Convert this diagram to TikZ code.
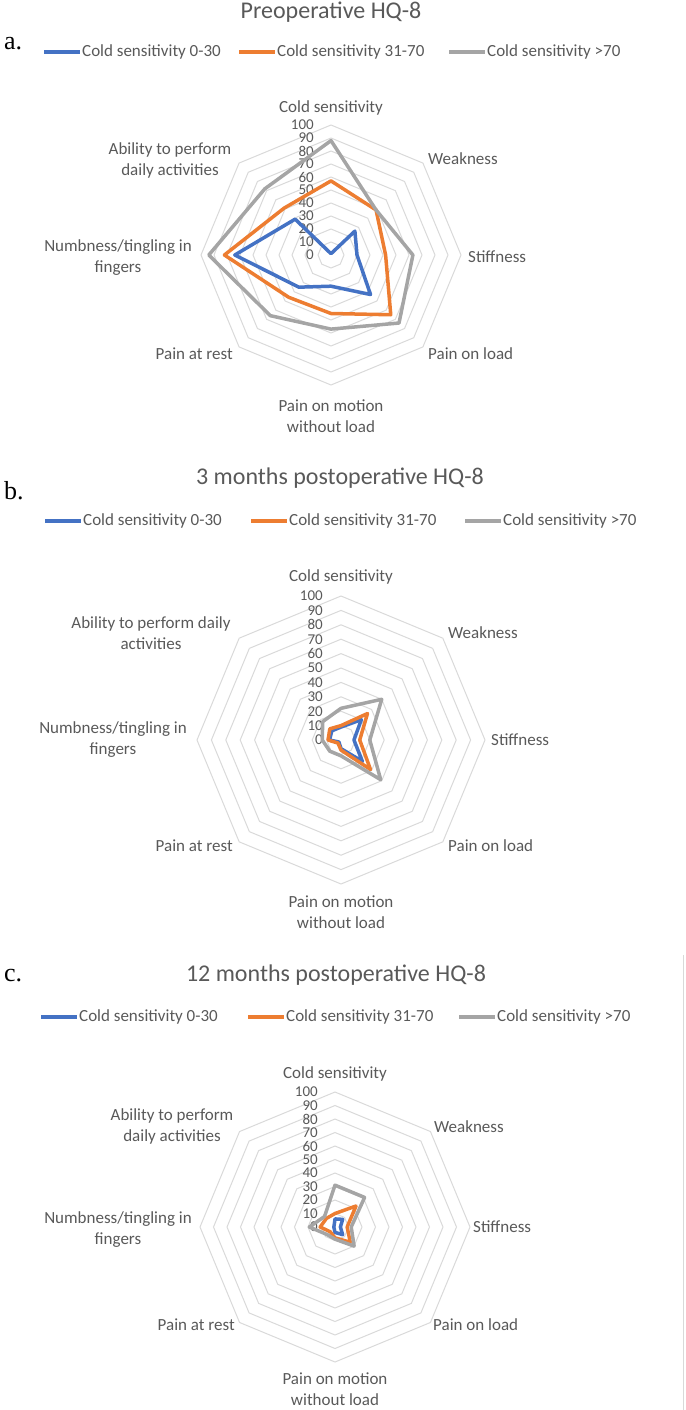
\documentclass[tikz,border=0pt]{standalone}
\usepackage{fontspec}
\setmainfont{Carlito}
\newfontfamily\panelfont{Liberation Serif}
\usetikzlibrary{positioning,calc}

\definecolor{csblue}{HTML}{4472C4}
\definecolor{csorange}{HTML}{ED7D31}
\definecolor{csgray}{HTML}{A5A5A5}
\definecolor{gridgray}{HTML}{D9D9D9}
\definecolor{textgray}{HTML}{595959}

\tikzset{
  axislabel/.style={text=textgray, font=\fontsize{17}{21}\selectfont, inner sep=0pt, align=center},
  charttitle/.style={text=textgray, font=\fontsize{24}{28}\selectfont, inner sep=0pt},
  ticklabel/.style={text=textgray, font=\fontsize{15}{15}\selectfont, inner sep=0pt, anchor=east},
  panellabel/.style={font=\panelfont\fontsize{26}{28}\selectfont, inner sep=0pt, anchor=west},
  ring/.style={draw=gridgray, line width=1pt},
  series/.style={line width=3.5pt, line join=round},
  legendline/.style={line width=3.5pt},
}

\begin{document}
\begin{tikzpicture}[x=1pt,y=-1pt]
\useasboundingbox (0,0) rectangle (685,1410);

% a. preoperative
\node[charttitle] (titleA) at (331,12) {Preoperative HQ-8};
\node[panellabel] (panelA) at (4,44) {a.};
\node[axislabel, anchor=west] (legA1) at (82,52) {Cold sensitivity 0-30};
\node[axislabel, anchor=west] (legA2) at (277,52) {Cold sensitivity 31-70};
\node[axislabel, anchor=west] (legA3) at (487,52) {Cold sensitivity >70};
\draw[legendline, csblue] ([xshift=-38pt]legA1.west) -- ([xshift=-2pt]legA1.west);
\draw[legendline, csorange] ([xshift=-38pt]legA2.west) -- ([xshift=-2pt]legA2.west);
\draw[legendline, csgray] ([xshift=-38pt]legA3.west) -- ([xshift=-2pt]legA3.west);

\begin{scope}[shift={(331,255)}]
\foreach \k in {1,...,10}
  \draw[ring] (-90:\k*13) \foreach \a in {-45,0,...,225} {-- (\a:\k*13)} -- cycle;
\foreach \n [count=\k from 0] in {0,10,...,100}
  \node[ticklabel] (tickA\n) at (-17,-\k*13) {\n};
\draw[series, csblue] (-90:1*1.3) -- (-45:26*1.3) -- (0:20*1.3) -- (45:43*1.3)
  -- (90:24*1.3) -- (135:35*1.3) -- (180:74*1.3) -- (225:39*1.3) -- cycle;
\draw[series, csorange] (-90:57*1.3) -- (-45:49*1.3) -- (0:42*1.3) -- (45:65*1.3)
  -- (90:45*1.3) -- (135:46*1.3) -- (180:82*1.3) -- (225:51*1.3) -- cycle;
\draw[series, csgray] (-90:88*1.3) -- (-45:49*1.3) -- (0:63*1.3) -- (45:74*1.3)
  -- (90:57*1.3) -- (135:66*1.3) -- (180:94*1.3) -- (225:72*1.3) -- cycle;
\end{scope}

\node[axislabel] (coldA) at (331,108) {Cold sensitivity};
\node[axislabel, anchor=west] (weakA) at (428,159) {Weakness};
\node[axislabel, anchor=west] (stiffA) at (468,257) {Stiffness};
\node[axislabel, anchor=west] (loadA) at (428,354) {Pain on load};
\node[axislabel] (motionA) at (331,416.5) {Pain on motion\\without load};
\node[axislabel, anchor=east] (restA) at (233,354) {Pain at rest};
\node[axislabel] (numbA) at (118,257.5) {Numbness/tingling in\\fingers};
\node[axislabel] (abilA) at (170,160) {Ability to perform\\daily activities};

% b. 3 months
\node[charttitle] (titleB) at (340,478) {3 months postoperative HQ-8};
\node[panellabel] (panelB) at (4,491) {b.};
\node[axislabel, anchor=west] (legB1) at (83,521) {Cold sensitivity 0-30};
\node[axislabel, anchor=west] (legB2) at (289,521) {Cold sensitivity 31-70};
\node[axislabel, anchor=west] (legB3) at (503,521) {Cold sensitivity >70};
\draw[legendline, csblue] ([xshift=-38pt]legB1.west) -- ([xshift=-2pt]legB1.west);
\draw[legendline, csorange] ([xshift=-38pt]legB2.west) -- ([xshift=-2pt]legB2.west);
\draw[legendline, csgray] ([xshift=-38pt]legB3.west) -- ([xshift=-2pt]legB3.west);

\begin{scope}[shift={(341,740)}]
\foreach \k in {1,...,10}
  \draw[ring] (-90:\k*14.4) \foreach \a in {-45,0,...,225} {-- (\a:\k*14.4)} -- cycle;
\foreach \n [count=\k from 0] in {0,10,...,100}
  \node[ticklabel] (tickB\n) at (-18,-\k*14.4) {\n};
\draw[series, csblue] (-90:9*1.44) -- (-45:20*1.44) -- (0:9*1.44) -- (45:21*1.44)
  -- (90:6*1.44) -- (135:2*1.44) -- (180:8*1.44) -- (225:9*1.44) -- cycle;
\draw[series, csorange] (-90:10*1.44) -- (-45:26*1.44) -- (0:13*1.44) -- (45:29*1.44)
  -- (90:7*1.44) -- (135:3*1.44) -- (180:9*1.44) -- (225:11*1.44) -- cycle;
\draw[series, csgray] (-90:22*1.44) -- (-45:40*1.44) -- (0:20*1.44) -- (45:39*1.44)
  -- (90:11*1.44) -- (135:11*1.44) -- (180:13*1.44) -- (225:18*1.44) -- cycle;
\end{scope}

\node[axislabel] (coldB) at (341,577) {Cold sensitivity};
\node[axislabel, anchor=west] (weakB) at (448,633) {Weakness};
\node[axislabel, anchor=west] (stiffB) at (491,740) {Stiffness};
\node[axislabel, anchor=west] (loadB) at (448,846) {Pain on load};
\node[axislabel] (motionB) at (341,912.5) {Pain on motion\\without load};
\node[axislabel, anchor=east] (restB) at (233,846) {Pain at rest};
\node[axislabel] (numbB) at (113,740) {Numbness/tingling in\\fingers};
\node[axislabel] (abilB) at (151,633.5) {Ability to perform daily\\activities};

% c. 12 months
\node[charttitle] (titleC) at (336,975) {12 months postoperative HQ-8};
\node[panellabel] (panelC) at (4,976) {c.};
\node[axislabel, anchor=west] (legC1) at (79,1017) {Cold sensitivity 0-30};
\node[axislabel, anchor=west] (legC2) at (286,1017) {Cold sensitivity 31-70};
\node[axislabel, anchor=west] (legC3) at (497,1017) {Cold sensitivity >70};
\draw[legendline, csblue] ([xshift=-38pt]legC1.west) -- ([xshift=-2pt]legC1.west);
\draw[legendline, csorange] ([xshift=-38pt]legC2.west) -- ([xshift=-2pt]legC2.west);
\draw[legendline, csgray] ([xshift=-38pt]legC3.west) -- ([xshift=-2pt]legC3.west);

\begin{scope}[shift={(335,1227)}]
\foreach \k in {1,...,10}
  \draw[ring] (-90:\k*13.5) \foreach \a in {-45,0,...,225} {-- (\a:\k*13.5)} -- cycle;
\foreach \n [count=\k from 0] in {0,10,...,100}
  \node[ticklabel] (tickC\n) at (-17,-\k*13.5) {\n};
\draw[series, csblue] (-90:6*1.35) -- (-45:8*1.35) -- (0:4*1.35) -- (45:8*1.35)
  -- (90:4*1.35) -- (135:1*1.35) -- (180:1*1.35) -- (225:1*1.35) -- cycle;
\draw[series, csorange] (-90:10*1.35) -- (-45:22*1.35) -- (0:9*1.35) -- (45:16*1.35)
  -- (90:8*1.35) -- (135:5*1.35) -- (180:11*1.35) -- (225:9*1.35) -- cycle;
\draw[series, csgray] (-90:31*1.35) -- (-45:31*1.35) -- (0:12*1.35) -- (45:20*1.35)
  -- (90:9*1.35) -- (135:8*1.35) -- (180:19*1.35) -- (225:11*1.35) -- cycle;
\end{scope}

\node[axislabel] (coldC) at (335,1074) {Cold sensitivity};
\node[axislabel, anchor=west] (weakC) at (434,1127) {Weakness};
\node[axislabel, anchor=west] (stiffC) at (473,1227) {Stiffness};
\node[axislabel, anchor=west] (loadC) at (433,1325) {Pain on load};
\node[axislabel] (motionC) at (335,1389) {Pain on motion\\without load};
\node[axislabel, anchor=east] (restC) at (235,1325) {Pain at rest};
\node[axislabel] (numbC) at (118,1230) {Numbness/tingling in\\fingers};
\node[axislabel] (abilC) at (172,1126.5) {Ability to perform\\daily activities};

\draw[gridgray, line width=1pt] (683.5,955) -- (683.5,1410);
\end{tikzpicture}
\end{document}
